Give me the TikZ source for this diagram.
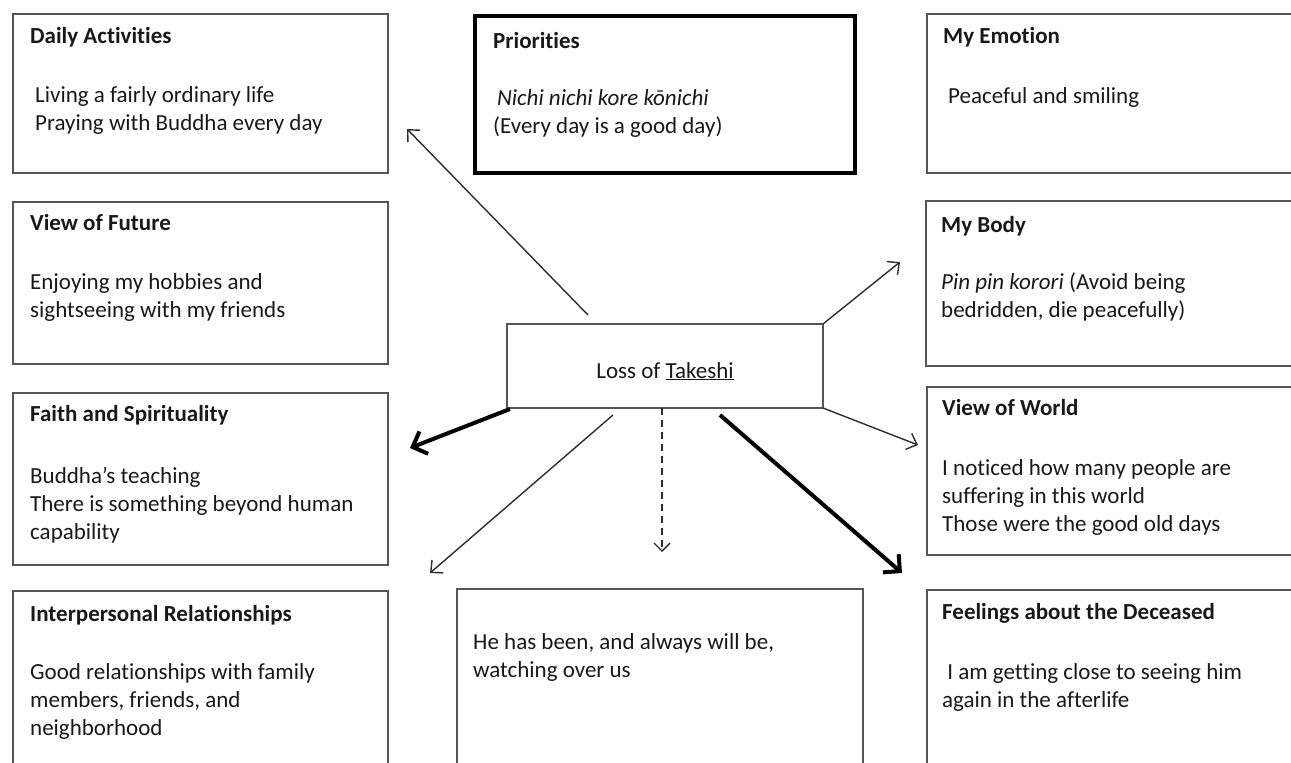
\documentclass[tikz,border=0pt]{standalone}
\usepackage{fontspec}
\setmainfont[Ligatures=NoCommon]{Carlito}
\usetikzlibrary{arrows.meta,calc}
\definecolor{boxgray}{HTML}{555555}
\definecolor{linegray}{HTML}{2E2E2E}
\begin{document}
\begin{tikzpicture}[x=1pt,y=-1pt,
  box/.style={draw=boxgray, line width=1.5pt, anchor=north west, inner sep=0pt, outer sep=0pt},
  mainbox/.style={draw=black, line width=4pt, anchor=north west, inner sep=0pt, outer sep=0pt},
  txt/.style={anchor=base west, inner sep=0pt, font=\fontsize{23}{28}\selectfont, align=left, text=black!90},
  ttl/.style={txt, font=\fontsize{23}{28}\selectfont\bfseries},
  thinarrow/.style={draw=linegray, line width=1.4pt, -{Straight Barb[length=9pt,width=17pt,line width=1.4pt]}},
  thickarrow/.style={draw=black, line width=4pt, -{Straight Barb[length=12pt,width=24pt,line width=4pt]}},
  dasharrow/.style={draw=linegray, line width=1.3pt, dash pattern=on 7pt off 5pt, -{Straight Barb[length=8pt,width=16pt,line width=1.3pt,sep=0pt]}}]
\useasboundingbox[fill=white] (0,0) rectangle (1291,763);

% boxes
\node[box, minimum width=375pt, minimum height=159pt] (daily) at (13,14) {};
\node[mainbox, minimum width=380pt, minimum height=157pt] (prio) at (475,16) {};
\node[box, minimum width=380pt, minimum height=159pt] (emot) at (927,14) {};
\node[box, minimum width=375pt, minimum height=162pt] (future) at (13,202) {};
\node[box, minimum width=380pt, minimum height=165pt] (body) at (926,201) {};
\node[box, minimum width=316pt, minimum height=84pt] (loss) at (507,324) {};
\node[box, minimum width=375pt, minimum height=172pt] (faith) at (13,393) {};
\node[box, minimum width=380pt, minimum height=168pt] (world) at (927,387) {};
\node[box, minimum width=375pt, minimum height=190pt] (inter) at (13,591) {};
\node[box, minimum width=406pt, minimum height=190pt] (watch) at (457,589) {};
\node[box, minimum width=380pt, minimum height=190pt] (feel) at (927,590) {};

% texts (multi-line texts are placed by the baseline of their last line)
\node[ttl] (dailyT) at (30,43) {Daily Activities};
\node[txt] (dailyB) at (35,130) {Living a fairly ordinary life\\Praying with Buddha every day};

\node[ttl] (prioT) at (493,48) {Priorities};
\node[txt] (prioB) at (493,133) {\,\textit{Nichi nichi kore kōnichi}\\(Every day is a good day)};

\node[ttl] (emotT) at (943,43) {My Emotion};
\node[txt] (emotB) at (948,103) {Peaceful and smiling};

\node[ttl] (futureT) at (30,230) {View of Future};
\node[txt] (futureB) at (30,317) {Enjoying my hobbies and\\sightseeing with my friends};

\node[ttl] (bodyT) at (941,232) {My Body};
\node[txt] (bodyB) at (941,317) {\textit{Pin pin korori} (Avoid being\\bedridden, die peacefully)};

\node[txt, anchor=base] (lossT) at (665,378) {Loss of \underline{Takeshi}};

\node[ttl] (faithT) at (30,421) {Faith and Spirituality};
\node[txt] (faithB) at (30,539) {Buddha’s teaching\\There is something beyond human\\capability};

\node[ttl] (worldT) at (942,415) {View of World};
\node[txt] (worldB) at (942,531) {I noticed how many people are\\suffering in this world\\Those were the good old days};

\node[ttl] (interT) at (30,621) {Interpersonal Relationships};
\node[txt] (interB) at (30,735) {Good relationships with family\\members, friends, and\\neighborhood};

\node[txt] (watchB) at (473,677) {He has been, and always will be,\\watching over us};

\node[ttl] (feelT) at (942,619) {Feelings about the Deceased};
\node[txt] (feelB) at (942,707) {\ I am getting close to seeing him\\again in the afterlife};

% arrow end points
\coordinate (a1s) at ($(loss.north west)+(81,-9)$);
\coordinate (a1e) at (407,129);
\coordinate (a2e) at (900,262);
\coordinate (a3e) at (918,445);
\coordinate (a4s) at ($(loss.south west)+(3,1)$);
\coordinate (a4e) at (410,448);
\coordinate (a5s) at ($(loss.south west)+(106,7)$);
\coordinate (a5e) at (430,573);
\coordinate (a6s) at ($(loss.south west)+(155,0)$);
\coordinate (a6e) at (662,552);
\coordinate (a7s) at ($(loss.south west)+(213,7)$);
\coordinate (a7e) at (902,573);

\draw[thinarrow] (a1s) -- (a1e);
\draw[thinarrow] (loss.north east) -- (a2e);
\draw[thinarrow] (loss.south east) -- (a3e);
\draw[thickarrow] (a4s) -- (a4e);
\draw[thinarrow] (a5s) -- (a5e);
\draw[dasharrow] (a6s) -- (a6e);
\draw[thickarrow] (a7s) -- (a7e);
\end{tikzpicture}
\end{document}
